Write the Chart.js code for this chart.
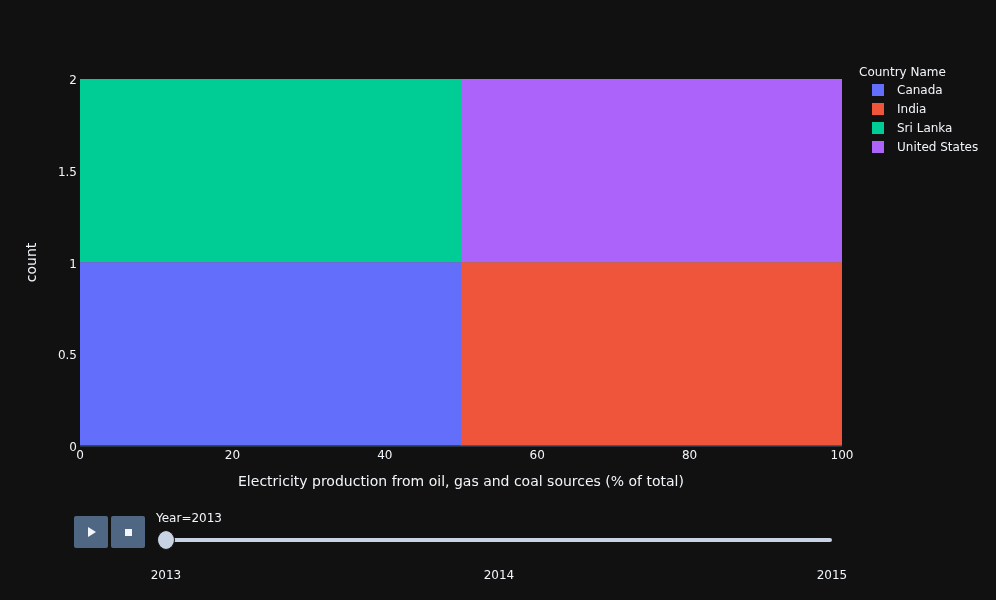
<!DOCTYPE html>
<html>
<head>
<meta charset="utf-8">
<script src="https://cdn.jsdelivr.net/npm/chart.js@4/dist/chart.umd.min.js"></script>
<style>
  html, body { margin:0; padding:0; background:#111111; }
  #wrap { position:relative; width:996px; height:600px; overflow:hidden; font-family:"DejaVu Sans", sans-serif; color:#f2f5fa; }
  #c { position:absolute; left:0; top:0; }
  .abs { position:absolute; white-space:nowrap; }
  .lg-title { font-size:12px; }
  .lg-item { font-size:12px; }
  .sw { position:absolute; width:12px; height:12px; }
  .btn { position:absolute; width:34px; height:32px; background:#506784; border-radius:2px; }
</style>
</head>
<body>
<div id="wrap">
  <canvas id="c" width="996" height="600"></canvas>
  <div id="legend"></div>
  <div id="slider"></div>
</div>
<script>
// ---- data ----
const countries = ["Canada", "India", "Sri Lanka", "United States"];
const bins = ["0-50", "50-100"];             // histogram bins on the x axis
const canadaCounts = [1, 0];
const indiaCounts = [0, 1];
const sriLankaCounts = [1, 0];
const unitedStatesCounts = [0, 1];
const seriesCounts = [canadaCounts, indiaCounts, sriLankaCounts, unitedStatesCounts];
const colors = ["#636efa", "#EF553B", "#00cc96", "#ab63fa"];
const xTicks = [0, 20, 40, 60, 80, 100];
const yTicks = [0, 0.5, 1, 1.5, 2];
const years = ["2013", "2014", "2015"];
const currentYear = "2013";

const FONT = '"DejaVu Sans", sans-serif';
const TXT = "#f2f5fa";
const GRID = "#283442";

const datasets = countries.map((name, i) => ({
  label: name,
  data: seriesCounts[i],
  backgroundColor: colors[i],
  borderWidth: 0,
  barPercentage: 1.0,
  categoryPercentage: 1.0,
  xAxisID: "xb",
  stack: "s"
}));

new Chart(document.getElementById("c"), {
  type: "bar",
  data: { labels: bins, datasets },
  options: {
    responsive: false,
    animation: false,
    layout: { padding: { left: 0, top: 79, right: 154, bottom: 105 } },
    plugins: { legend: { display: false }, tooltip: { enabled: false } },
    scales: {
      xb: {
        type: "category", stacked: true, display: false, offset: true,
        grid: { display: false }
      },
      x: {
        type: "linear", position: "bottom", min: 0, max: 100, offset: false,
        afterBuildTicks: s => { s.ticks = xTicks.map(v => ({ value: v })); },
        afterFit: s => { s.height = 49; },
        grid: { display: false, drawTicks: false },
        border: { display: false },
        ticks: { color: TXT, font: { family: FONT, size: 12 }, padding: 3, maxRotation: 0 },
        title: { display: true, text: "Electricity production from oil, gas and coal sources (% of total)", color: TXT, font: { family: FONT, size: 14 }, padding: 4 }
      },
      y: {
        stacked: true, min: 0, max: 2,
        afterBuildTicks: s => { s.ticks = yTicks.map(v => ({ value: v })); },
        afterFit: s => { s.width = 80; },
        z: 1,
        grid: { color: c => (c.tick && c.tick.value === 0 ? GRID : "rgba(0,0,0,0)"), lineWidth: 2, drawTicks: false },
        border: { display: false },
        ticks: { color: TXT, font: { family: FONT, size: 12 }, padding: 3, labelOffset: 2, callback: v => String(v) },
        title: { display: true, text: "count", color: TXT, font: { family: FONT, size: 14 }, padding: 24 }
      }
    }
  }
});

// ---- legend (HTML) ----
const lg = document.getElementById("legend");
let html = '<div class="abs lg-title" style="left:859px;top:65px;">Country Name</div>';
countries.forEach((n, i) => {
  const y = 90 + i * 19;
  html += `<div class="sw" style="left:872px;top:${y - 6}px;background:${colors[i]}"></div>`;
  html += `<div class="abs lg-item" style="left:897px;top:${y - 7}px;">${n}</div>`;
});
lg.innerHTML = html;

// ---- slider (HTML) ----
const sl = document.getElementById("slider");
const railL = 166, railR = 832;
let sh = '';
sh += '<div class="btn" style="left:74px;top:516px;"><div style="position:absolute;left:14px;top:11px;width:0;height:0;border-left:8px solid #f2f5fa;border-top:5px solid transparent;border-bottom:5px solid transparent;"></div></div>';
sh += '<div class="btn" style="left:111px;top:516px;"><div style="position:absolute;left:14px;top:13px;width:7px;height:7px;background:#f2f5fa;"></div></div>';
sh += `<div class="abs" style="left:156px;top:511px;font-size:12px;">Year=${currentYear}</div>`;
sh += `<div class="abs" style="left:${railL}px;top:538px;width:${railR - railL}px;height:4px;background:#c8d4e3;border-radius:2px;"></div>`;
sh += `<div class="abs" style="left:157px;top:530px;width:18px;height:20px;background:#c8d4e3;border-radius:9px/10px;border:1px solid #111;box-sizing:border-box;"></div>`;
years.forEach((yr, i) => {
  const x = railL + (railR - railL) * i / (years.length - 1);
  sh += `<div class="abs" style="left:${x - 20}px;width:40px;text-align:center;top:568px;font-size:12px;">${yr}</div>`;
});
sl.innerHTML = sh;
</script>
</body>
</html>
